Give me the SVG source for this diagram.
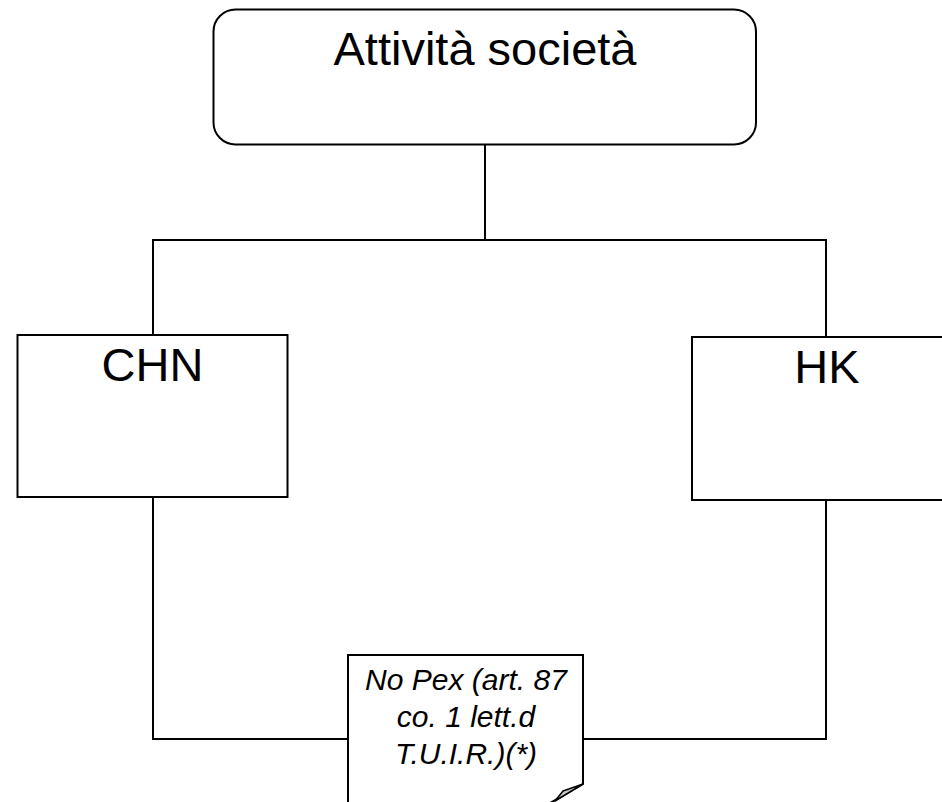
<svg xmlns="http://www.w3.org/2000/svg" width="942" height="802" viewBox="0 0 942 802">
  <style>
    .box { fill: #ffffff; stroke: #000000; stroke-width: 2; }
    .wire { fill: none; stroke: #000000; stroke-width: 2; }
    .title { font-family: "Liberation Sans", Arial, sans-serif; font-size: 47px; fill: #000000; text-anchor: middle; }
    .note { font-family: "Liberation Sans", Arial, sans-serif; font-size: 30px; font-style: italic; fill: #000000; text-anchor: middle; }
  </style>
  <rect width="942" height="802" fill="#ffffff"/>

  <!-- connectors -->
  <g id="connectors">
    <line class="wire" x1="485" y1="145" x2="485" y2="240"/>
    <polyline class="wire" points="153,335 153,240 826,240 826,337"/>
    <polyline class="wire" points="153,497 153,739 348,739"/>
    <polyline class="wire" points="826,500 826,739 583,739"/>
  </g>

  <!-- top node -->
  <g id="attivita">
    <rect class="box" x="213.5" y="9.5" width="542.5" height="135" rx="22" ry="22"/>
    <text class="title" x="485" y="65">Attività società</text>
  </g>

  <!-- left branch -->
  <g id="chn">
    <rect class="box" x="17.5" y="335" width="270" height="162"/>
    <text class="title" x="152.5" y="381">CHN</text>
  </g>

  <!-- right branch -->
  <g id="hk">
    <rect class="box" x="692" y="337" width="270" height="163"/>
    <text class="title" x="827" y="383">HK</text>
  </g>

  <!-- note with folded corner -->
  <g id="note">
    <path class="box" d="M348,655 H583 V784 L538,810 H348 Z"/>
    <path d="M583,784 L563,791 L555,801 Z" fill="#c8c8c8" stroke="#000000" stroke-width="1.5" stroke-linejoin="round"/>
    <text class="note" x="466" y="690">No Pex (art. 87</text>
    <text class="note" x="466" y="727">co. 1 lett.d</text>
    <text class="note" x="466" y="764">T.U.I.R.)(*)</text>
  </g>
</svg>
